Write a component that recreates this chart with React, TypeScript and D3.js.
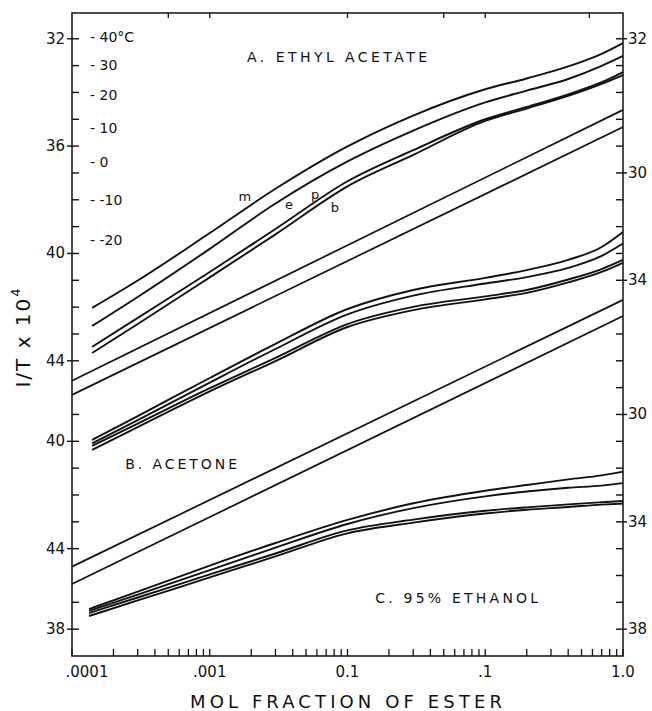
import React from "react";
import * as d3 from "d3";

// mol fraction grid the curves were read at
const molFrac = [1.4e-4, 3e-4, 1e-3, 3e-3, 1e-2, 3e-2, 0.1, 0.2, 0.4, 0.7, 1.0];
const molFracEtOH = [1.33e-4, 3e-4, 1e-3, 3e-3, 1e-2, 3e-2, 0.1, 0.2, 0.4, 0.7, 1.0];
const molFracRef = [1e-4, 1.0];

// y values are read on the left "A" scale (1/T x 10^4), panels are stacked below
const ethylAcetateM = [42.03, 41.01, 39.24, 37.59, 36.01, 34.86, 33.88, 33.48, 33.03, 32.56, 32.16];
const ethylAcetateE = [42.7, 41.62, 39.83, 38.14, 36.57, 35.42, 34.37, 33.93, 33.5, 33.01, 32.64];
const ethylAcetateP = [43.48, 42.4, 40.69, 39.09, 37.31, 36.15, 35.0, 34.54, 34.07, 33.62, 33.24];
const ethylAcetateB = [43.71, 42.63, 40.89, 39.29, 37.5, 36.33, 35.06, 34.6, 34.13, 33.68, 33.35];
const ethylAcetateRef1 = [44.74, 34.65];
const ethylAcetateRef2 = [45.27, 35.29];

const acetoneM = [46.95, 46.06, 44.64, 43.37, 42.07, 41.36, 40.91, 40.62, 40.24, 39.76, 39.2];
const acetoneE = [47.08, 46.21, 44.81, 43.56, 42.27, 41.57, 41.12, 40.88, 40.54, 40.09, 39.63];
const acetoneP = [47.17, 46.34, 45.02, 43.89, 42.63, 41.99, 41.6, 41.36, 40.97, 40.58, 40.24];
const acetoneB = [47.32, 46.47, 45.14, 44.01, 42.74, 42.11, 41.71, 41.47, 41.08, 40.69, 40.35];
const acetoneRef1 = [51.67, 41.73];
const acetoneRef2 = [52.32, 42.33];

const ethanolM = [53.25, 52.6, 51.63, 50.79, 49.93, 49.31, 48.84, 48.63, 48.42, 48.27, 48.13];
const ethanolE = [53.32, 52.71, 51.8, 50.96, 50.08, 49.49, 49.05, 48.87, 48.73, 48.65, 48.56];
const ethanolP = [53.4, 52.82, 51.96, 51.18, 50.32, 49.92, 49.59, 49.46, 49.35, 49.27, 49.22];
const ethanolB = [53.51, 52.93, 52.07, 51.29, 50.43, 50.03, 49.69, 49.55, 49.45, 49.36, 49.32];

// axis labels
const leftLabelPos = [32, 36, 40, 44, 47, 51, 54];
const leftLabelText = ["32", "36", "40", "44", "40", "44", "38"];
const rightLabelPos = [32, 37, 41, 46, 50, 54];
const rightLabelText = ["32", "30", "34", "30", "34", "38"];
const bottomLabelPos = [1e-4, 1e-3, 1e-2, 1e-1, 1];
const bottomLabelText = [".0001", ".001", "0.1", ".1", "1.0"];
const topTickPos = [5e-4, 1e-3, 1e-2, 5e-2, 1e-1, 0.57];

// temperature scale (deg C) on the inside of the left axis
const temperatures = [40, 30, 20, 10, 0, -10, -20];

const curveLetters = ["m", "e", "p", "b"];
const curveLetterX = [1.8e-3, 3.76e-3, 5.81e-3, 8.11e-3];
const curveLetterY = [37.89, 38.19, 37.82, 38.3];

const panelTitles = ["A. ETHYL ACETATE", "B. ACETONE", "C. 95% ETHANOL"];
const panelTitleX = [8.4e-3, 6.2e-4, 6.2e-2];
const panelTitleY = [32.68, 47.84, 52.84];

const FONT = "'DejaVu Sans', 'Liberation Sans', sans-serif";

export default function App() {
  const width = 652;
  const height = 711;
  const left = 72, right = 623, top = 13, bottom = 656;

  const x = d3.scaleLog().domain([1e-4, 1]).range([left, right]);
  const y = d3.scaleLinear().domain([31.04, 55]).range([top, bottom]);

  const line = d3
    .line<[number, number]>()
    .x((d) => x(d[0]))
    .y((d) => y(d[1]))
    .curve(d3.curveMonotoneX);

  const zip = (xs: number[], ys: number[]) => xs.map((v, i) => [v, ys[i]] as [number, number]);

  const curves = [
    zip(molFrac, ethylAcetateM),
    zip(molFrac, ethylAcetateE),
    zip(molFrac, ethylAcetateP),
    zip(molFrac, ethylAcetateB),
    zip(molFrac, acetoneM),
    zip(molFrac, acetoneE),
    zip(molFrac, acetoneP),
    zip(molFrac, acetoneB),
    zip(molFracEtOH, ethanolM),
    zip(molFracEtOH, ethanolE),
    zip(molFracEtOH, ethanolP),
    zip(molFracEtOH, ethanolB),
  ];
  const refLines = [
    zip(molFracRef, ethylAcetateRef1),
    zip(molFracRef, ethylAcetateRef2),
    zip(molFracRef, acetoneRef1),
    zip(molFracRef, acetoneRef2),
  ];

  // minor ticks on left/right, skipping where the straight lines meet the frame
  const leftTicks = d3.range(32, 55).filter((v) => v !== 45 && v !== 52);
  const rightTicks = d3.range(32, 55).filter((v) => v !== 42);
  const bottomTicks = x.ticks();
  const titleWidths = [180, 112, 163];

  return (
    <svg
      width={width}
      height={height}
      viewBox={`0 0 ${width} ${height}`}
      style={{ position: "absolute", left: 0, top: 0, background: "#fff" }}
      fontFamily={FONT}
    >
      <rect x={0} y={0} width={width} height={height} fill="#fff" />

      {/* frame */}
      <rect x={left} y={top} width={right - left} height={bottom - top} fill="none" stroke="#111" strokeWidth={1.5} />

      {/* left axis */}
      {leftTicks.map((v) => (
        <line key={"lt" + v} x1={left} x2={left + 7} y1={y(v)} y2={y(v)} stroke="#111" strokeWidth={1.4} />
      ))}
      {leftLabelPos.map((v, i) => (
        <g key={"ll" + i}>
          <line x1={left - 5} x2={left} y1={y(v)} y2={y(v)} stroke="#111" strokeWidth={1.4} />
          <text x={left - 7} y={y(v)} textAnchor="end" dominantBaseline="central" fontSize={15} fill="#111">
            {leftLabelText[i]}
          </text>
        </g>
      ))}

      {/* right axis */}
      {rightTicks.map((v) => (
        <line key={"rt" + v} x1={right - 7} x2={right} y1={y(v)} y2={y(v)} stroke="#111" strokeWidth={1.4} />
      ))}
      {rightLabelPos.map((v, i) => (
        <g key={"rl" + i}>
          <line x1={right} x2={right + 4} y1={y(v)} y2={y(v)} stroke="#111" strokeWidth={1.4} />
          <text x={right + 5} y={y(v)} textAnchor="start" dominantBaseline="central" fontSize={15} fill="#111">
            {rightLabelText[i]}
          </text>
        </g>
      ))}

      {/* bottom axis */}
      {bottomTicks.map((v, i) => (
        <line key={"bt" + i} x1={x(v)} x2={x(v)} y1={bottom} y2={bottom - 7} stroke="#111" strokeWidth={1.3} />
      ))}
      {bottomLabelPos.map((v, i) => (
        <text
          key={"bl" + i}
          x={x(v) + (i === 0 ? 15 : 0)}
          y={bottom + 16}
          textAnchor="middle"
          dominantBaseline="central"
          fontSize={15}
          fill="#111"
        >
          {bottomLabelText[i]}
        </text>
      ))}

      {/* top axis */}
      {topTickPos.map((v, i) => (
        <line key={"tt" + i} x1={x(v)} x2={x(v)} y1={top} y2={top + 5} stroke="#111" strokeWidth={1.3} />
      ))}

      {/* curves */}
      {curves.map((c, i) => (
        <path key={"c" + i} d={line(c) || ""} fill="none" stroke="#111" strokeWidth={1.9} strokeLinejoin="round" />
      ))}
      {refLines.map((c, i) => (
        <path key={"r" + i} d={line(c) || ""} fill="none" stroke="#111" strokeWidth={1.7} />
      ))}

      {/* temperature labels */}
      {temperatures.map((t, i) => (
        <text
          key={"t" + i}
          x={left + 18}
          y={y(1e4 / (t + 273.15))}
          dominantBaseline="central"
          fontSize={14}
          fill="#111"
        >
          {`- ${t}${i === 0 ? "°C" : ""}`}
        </text>
      ))}

      {/* curve letters */}
      {curveLetters.map((s, i) => (
        <text
          key={"cl" + i}
          x={x(curveLetterX[i])}
          y={y(curveLetterY[i])}
          textAnchor="middle"
          dominantBaseline="central"
          fontSize={13}
          fill="#111"
        >
          {s}
        </text>
      ))}

      {/* panel titles */}
      {panelTitles.map((s, i) => (
        <text
          key={"pt" + i}
          x={x(panelTitleX[i]) - titleWidths[i] / 2}
          y={y(panelTitleY[i])}
          dominantBaseline="central"
          fontSize={14}
          textLength={titleWidths[i]}
          lengthAdjust="spacing"
          fill="#111"
        >
          {s}
        </text>
      ))}

      {/* axis titles */}
      <text
        x={190}
        y={701}
        dominantBaseline="central"
        fontSize={18}
        textLength={312}
        lengthAdjust="spacing"
        fill="#111"
      >
        MOL FRACTION OF ESTER
      </text>
      <text
        transform={`translate(23, 337) rotate(-90)`}
        textAnchor="middle"
        dominantBaseline="central"
        fontSize={20}
        fill="#111"
        letterSpacing={2}
      >
        I/T x 10<tspan dy={-8} fontSize={13}>4</tspan>
      </text>
    </svg>
  );
}
